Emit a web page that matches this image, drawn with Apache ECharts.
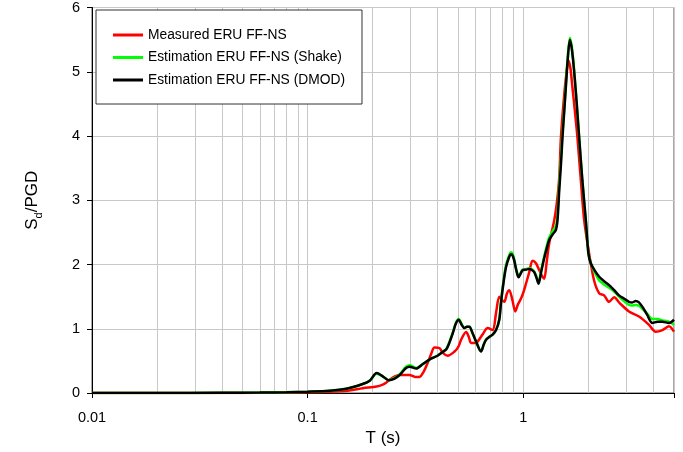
<!DOCTYPE html>
<html>
<head>
<meta charset="utf-8">
<script src="https://cdn.jsdelivr.net/npm/echarts@6/dist/echarts.min.js"></script>
<style>
  html, body { margin: 0; padding: 0; background: #fff; }
  #chart { width: 683px; height: 452px; }
</style>
</head>
<body>
<div id="chart"></div>
<script>
// Normalised displacement spectra Sd/PGD against period T (s)

const periodsMeasured = [0.01, 0.02, 0.04, 0.06, 0.08, 0.1, 0.1265, 0.156, 0.18, 0.209, 0.223, 0.231, 0.248, 0.267, 0.297, 0.315, 0.33, 0.345, 0.36, 0.375, 0.387, 0.408, 0.425, 0.446, 0.48, 0.50, 0.515, 0.543, 0.558, 0.573, 0.60, 0.614, 0.65, 0.684, 0.721, 0.748, 0.774, 0.80, 0.817, 0.84, 0.861, 0.89, 0.918, 0.945, 0.976, 1.00, 1.029, 1.066, 1.104, 1.145, 1.186, 1.228, 1.251, 1.285, 1.319, 1.392, 1.43, 1.468, 1.495, 1.54, 1.577, 1.621, 1.655, 1.691, 1.74, 1.783, 1.85, 1.916, 2.02, 2.13, 2.25, 2.37, 2.50, 2.64, 2.8, 3.09, 3.44, 3.83, 4.11, 4.42, 4.74, 5.0];
const valuesMeasured = [0, 0.0005, 0.001, 0.002, 0.005, 0.01, 0.018, 0.04, 0.075, 0.10, 0.13, 0.16, 0.24, 0.28, 0.28, 0.25, 0.25, 0.33, 0.465, 0.62, 0.71, 0.70, 0.62, 0.58, 0.645, 0.72, 0.83, 0.95, 0.88, 0.78, 0.78, 0.80, 0.92, 1.01, 0.98, 1.25, 1.50, 1.44, 1.42, 1.55, 1.60, 1.45, 1.27, 1.38, 1.47, 1.56, 1.70, 1.88, 2.06, 2.02, 1.91, 1.81, 1.78, 2.05, 2.33, 2.69, 2.95, 3.35, 3.98, 4.55, 4.91, 5.17, 5.05, 4.75, 4.35, 3.98, 3.30, 2.69, 2.17, 1.75, 1.55, 1.52, 1.42, 1.49, 1.40, 1.27, 1.19, 1.06, 0.955, 0.98, 1.04, 0.955];

const periodsEstimated = [0.01, 0.02, 0.04, 0.06, 0.08, 0.1, 0.1265, 0.151, 0.18, 0.194, 0.209, 0.223, 0.238, 0.252, 0.267, 0.286, 0.297, 0.319, 0.342, 0.367, 0.40, 0.423, 0.44, 0.454, 0.471, 0.487, 0.502, 0.518, 0.533, 0.548, 0.562, 0.582, 0.604, 0.637, 0.655, 0.672, 0.70, 0.721, 0.748, 0.774, 0.788, 0.81, 0.832, 0.861, 0.877, 0.892, 0.908, 0.93, 0.951, 0.976, 0.993, 1.03, 1.066, 1.10, 1.124, 1.15, 1.177, 1.21, 1.251, 1.285, 1.319, 1.37, 1.417, 1.442, 1.468, 1.495, 1.52, 1.55, 1.577, 1.61, 1.645, 1.68, 1.722, 1.77, 1.816, 1.88, 1.95, 2.005, 2.056, 2.15, 2.25, 2.37, 2.5, 2.64, 2.78, 2.93, 3.09, 3.2, 3.32, 3.44, 3.57, 3.75, 3.97, 4.2, 4.42, 4.74, 5.0];

const valuesShake = [0, 0.001, 0.003, 0.006, 0.011, 0.02, 0.035, 0.065, 0.14, 0.19, 0.30, 0.26, 0.20, 0.23, 0.29, 0.41, 0.43, 0.39, 0.45, 0.52, 0.58, 0.64, 0.69, 0.79, 0.94, 1.09, 1.15, 1.07, 1.01, 1.03, 1.03, 0.93, 0.80, 0.65, 0.75, 0.83, 0.88, 0.91, 0.98, 1.15, 1.42, 1.75, 1.99, 2.15, 2.19, 2.17, 2.08, 1.91, 1.81, 1.88, 1.92, 1.93, 1.94, 1.92, 1.89, 1.81, 1.72, 1.91, 2.13, 2.29, 2.42, 2.52, 2.60, 2.78, 3.25, 3.65, 4.05, 4.45, 4.82, 5.26, 5.53, 5.38, 5.02, 4.50, 3.98, 3.30, 2.69, 2.17, 2.02, 1.87, 1.75, 1.69, 1.64, 1.58, 1.50, 1.43, 1.37, 1.36, 1.37, 1.36, 1.31, 1.24, 1.15, 1.15, 1.13, 1.11, 1.06];

const valuesDMOD = [0, 0.001, 0.003, 0.006, 0.011, 0.02, 0.035, 0.065, 0.14, 0.19, 0.31, 0.26, 0.20, 0.22, 0.28, 0.39, 0.41, 0.38, 0.45, 0.52, 0.58, 0.64, 0.68, 0.78, 0.93, 1.08, 1.14, 1.06, 1.01, 1.03, 1.03, 0.93, 0.80, 0.645, 0.75, 0.83, 0.88, 0.91, 0.98, 1.14, 1.40, 1.72, 1.96, 2.12, 2.16, 2.14, 2.06, 1.90, 1.80, 1.87, 1.91, 1.92, 1.93, 1.91, 1.88, 1.80, 1.70, 1.88, 2.10, 2.25, 2.38, 2.47, 2.54, 2.70, 3.15, 3.55, 3.98, 4.40, 4.78, 5.22, 5.50, 5.35, 5.00, 4.50, 3.98, 3.30, 2.69, 2.17, 2.02, 1.90, 1.81, 1.74, 1.68, 1.60, 1.52, 1.47, 1.42, 1.41, 1.43, 1.41, 1.34, 1.22, 1.09, 1.11, 1.11, 1.09, 1.14];

// Intermediate periods of each decade, drawn as light vertical grid lines
const minorGridPeriods = [0.02, 0.03, 0.04, 0.05, 0.06, 0.07, 0.08, 0.09, 0.2, 0.3, 0.4, 0.5, 0.6, 0.7, 0.8, 0.9, 2, 3, 4];

const seriesNames = ['Measured ERU FF-NS', 'Estimation ERU FF-NS (Shake)', 'Estimation ERU FF-NS (DMOD)'];
const seriesColors = ['#ff0000', '#00ff00', '#000000'];

const pair = (xs, ys) => xs.map((x, i) => [x, ys[i]]);

const FONT = 'Liberation Sans, Arial, sans-serif';
const GRID_GREY = '#c8c8c8';
// Plain stroke used as the legend key (30 x 3 bar)
const LEGEND_STROKE = 'path://M0,0 L30,0 L30,3 L0,3 Z';

const chart = echarts.init(document.getElementById('chart'), null, { renderer: 'canvas' });

const lineSeries = (name, color, data, extra) => Object.assign({
  name: name,
  type: 'line',
  data: data,
  showSymbol: false,
  symbol: 'none',
  smooth: 0.3,
  animation: false,
  lineStyle: { color: color, width: 2.5 },
  itemStyle: { color: color }
}, extra || {});

chart.setOption({
  animation: false,
  backgroundColor: '#ffffff',
  textStyle: { fontFamily: FONT },
  grid: {
    left: 92, right: 9, top: 6, bottom: 59,
    show: true, borderColor: '#555555', borderWidth: 1, backgroundColor: 'transparent'
  },
  legend: {
    orient: 'vertical',
    left: 96, top: 10,
    padding: [18, 17, 17, 17],
    itemGap: 8.5,
    itemWidth: 30,
    itemHeight: 12,
    itemTextGap: 8,
    symbolKeepAspect: true,
    backgroundColor: '#ffffff',
    borderColor: '#333333',
    borderWidth: 1,
    textStyle: { fontFamily: FONT, fontSize: 13.8, color: '#000' },
    data: seriesNames.map((n, i) => ({
      name: n,
      icon: LEGEND_STROKE,
      itemStyle: { color: seriesColors[i], borderWidth: 0 }
    }))
  },
  xAxis: {
    type: 'log',
    logBase: 10,
    min: 0.01,
    max: 5,
    name: 'T (s)',
    nameLocation: 'middle',
    nameGap: 34,
    nameTextStyle: { fontFamily: FONT, fontSize: 17, color: '#000' },
    axisLine: { onZero: false, lineStyle: { color: '#000', width: 1 } },
    axisTick: { show: true, length: 5, lineStyle: { color: '#000' } },
    axisLabel: {
      margin: 17,
      fontFamily: FONT, fontSize: 14.5, color: '#000',
      formatter: v => {
        const e = Math.log10(v);
        return Math.abs(e - Math.round(e)) < 1e-6 ? String(v) : '';
      }
    },
    splitLine: { show: true, lineStyle: { color: GRID_GREY, width: 1 } },
    minorTick: { show: false },
    minorSplitLine: { show: false }
  },
  yAxis: {
    type: 'value',
    min: 0, max: 6, interval: 1,
    name: '{s|S}{sub|d}{s|/PGD}',
    nameLocation: 'middle',
    nameGap: 48,
    nameTextStyle: {
      fontFamily: FONT, color: '#000',
      rich: {
        s: { fontFamily: FONT, fontSize: 17, color: '#000', lineHeight: 24, verticalAlign: 'middle' },
        sub: { fontFamily: FONT, fontSize: 11, color: '#000', lineHeight: 24, verticalAlign: 'bottom' }
      }
    },
    axisLine: { show: true, lineStyle: { color: '#000', width: 1 } },
    axisTick: { show: true, length: 5, lineStyle: { color: '#000' } },
    axisLabel: { margin: 12, fontFamily: FONT, fontSize: 14.5, color: '#000' },
    splitLine: { show: true, lineStyle: { color: GRID_GREY, width: 1 } }
  },
  series: [
    lineSeries(seriesNames[0], seriesColors[0], pair(periodsMeasured, valuesMeasured), {
      z: 3,
      markLine: {
        silent: true,
        symbol: ['none', 'none'],
        animation: false,
        z: 1,
        label: { show: false },
        lineStyle: { color: GRID_GREY, width: 1, type: 'solid' },
        emphasis: { disabled: true },
        data: minorGridPeriods.map(p => ({ xAxis: p }))
      }
    }),
    lineSeries(seriesNames[1], seriesColors[1], pair(periodsEstimated, valuesShake), { z: 4 }),
    lineSeries(seriesNames[2], seriesColors[2], pair(periodsEstimated, valuesDMOD), { z: 5 })
  ]
});
</script>
</body>
</html>
